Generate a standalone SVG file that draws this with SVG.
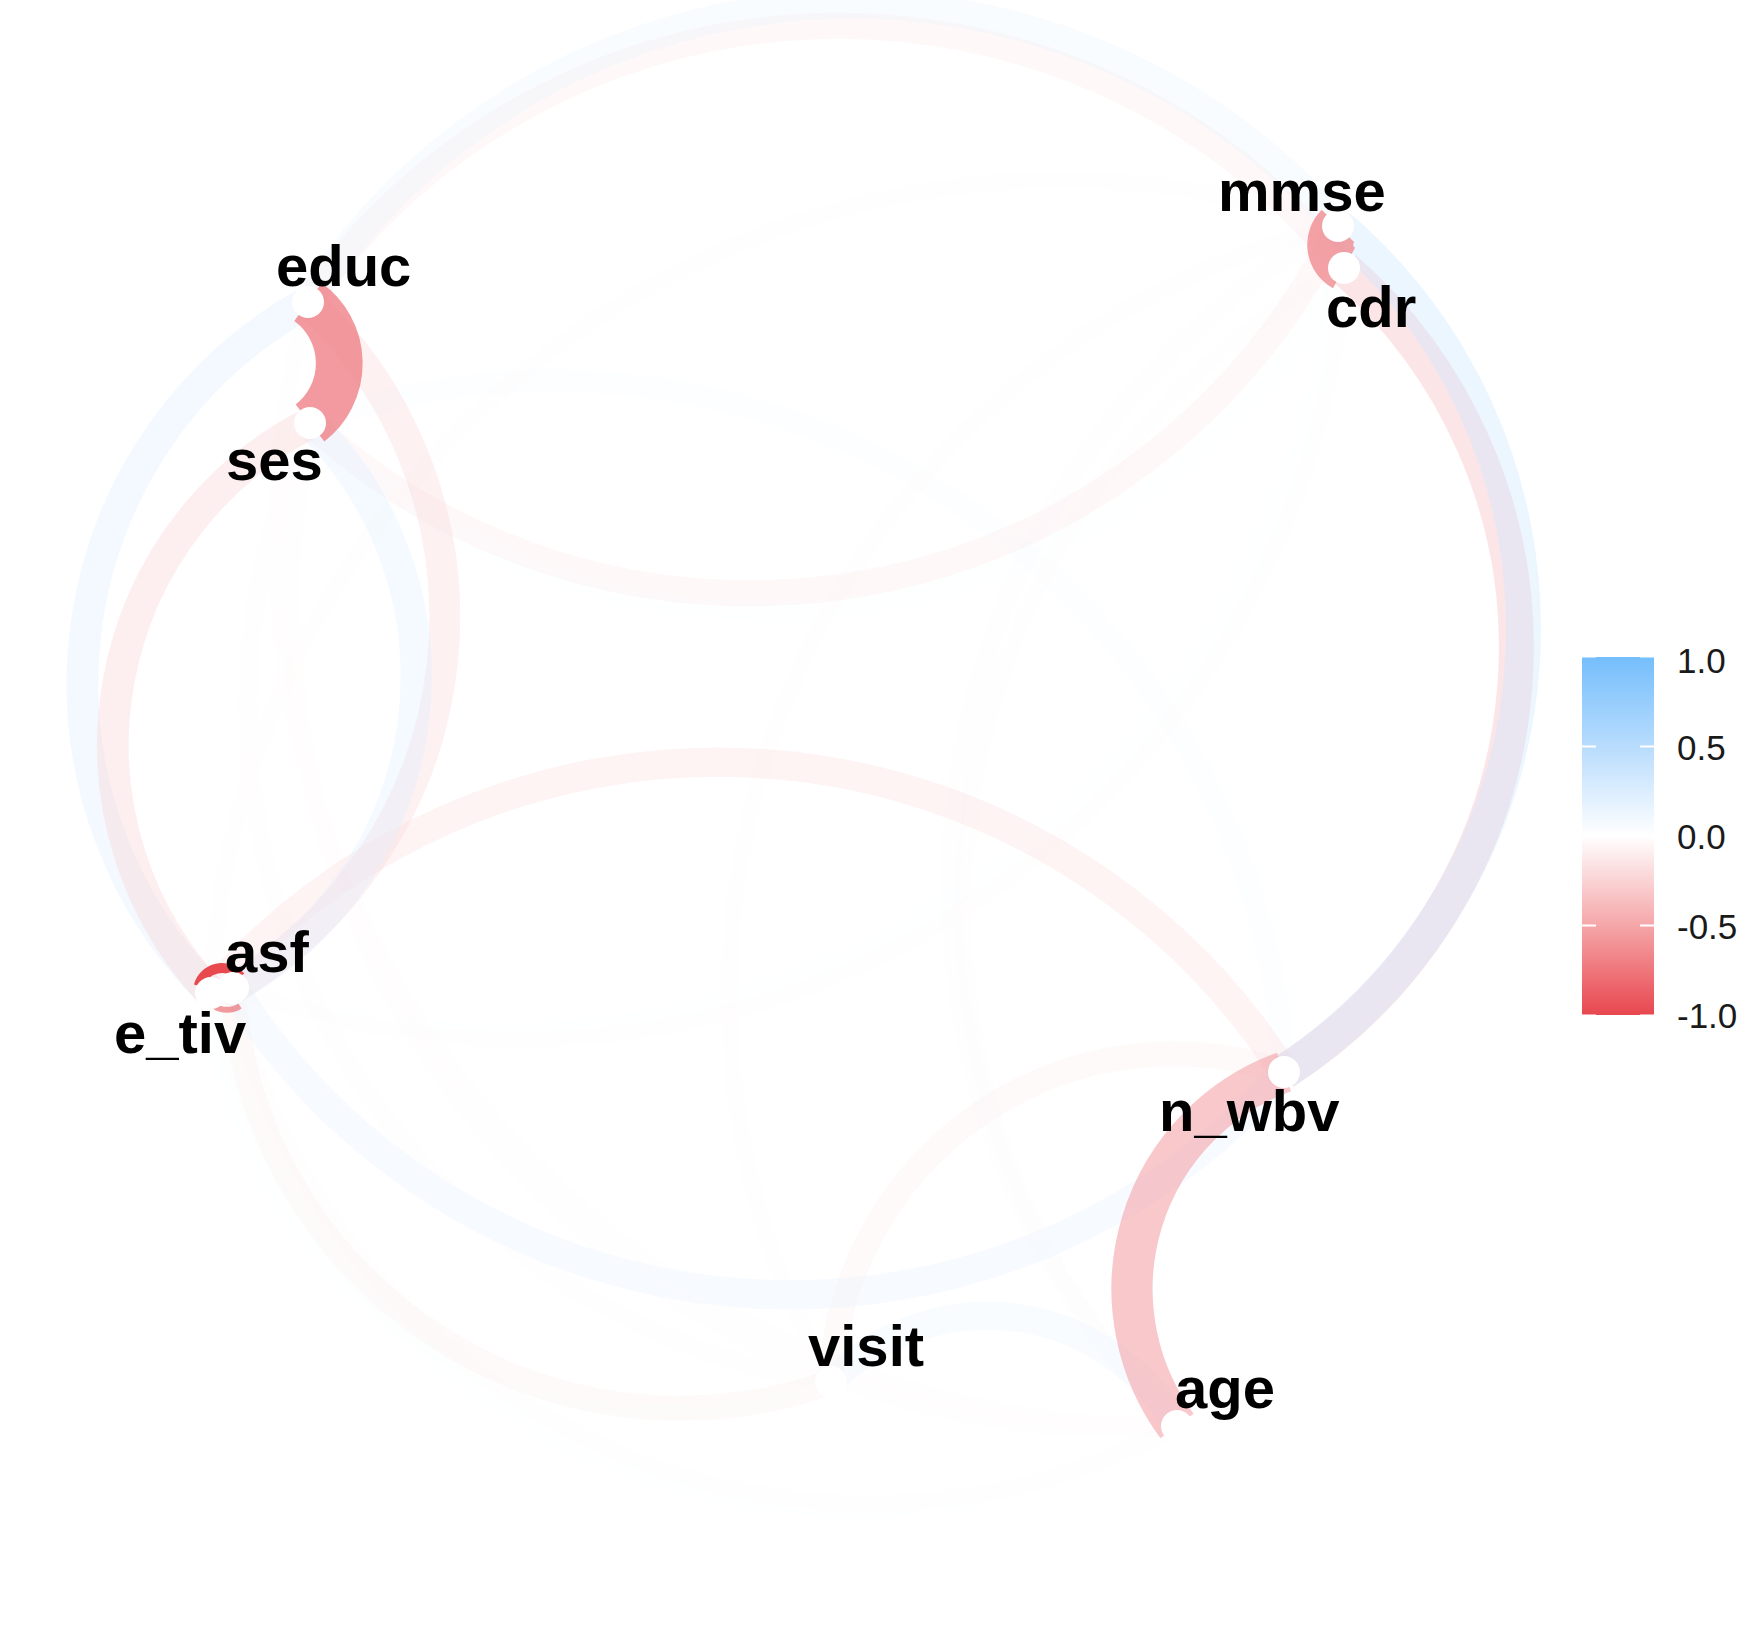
<svg xmlns="http://www.w3.org/2000/svg" width="1740" height="1650" viewBox="0 0 1740 1650">
<defs>
<style>
.e{fill:none;stroke-linecap:butt}
.lbl{font-family:"Liberation Sans",Arial,Helvetica,sans-serif;font-weight:bold;font-size:58px;fill:#000}
.dot{fill:#fff}
.leg{font-family:"Liberation Sans",Arial,Helvetica,sans-serif;font-size:35px;fill:#1a1a1a}
.tick{stroke:#fff;stroke-width:2}
</style>
<linearGradient id="cbar" x1="0" y1="0" x2="0" y2="1">
<stop offset="0" stop-color="#75BEFC"/>
<stop offset="0.25" stop-color="#B8DCFD"/>
<stop offset="0.5" stop-color="#FFFFFF"/>
<stop offset="0.75" stop-color="#F5A6A8"/>
<stop offset="1" stop-color="#E8474F"/>
</linearGradient>
</defs>
<rect width="1740" height="1650" fill="#fff"/>
<g id="connectors">
<path class="e" d="M 831 1382 A 766 766 0 0 1 1344 268" stroke="#FFFFFF" stroke-opacity="0.1" stroke-width="8.9"/>
<path class="e" d="M 308 302 A 777 777 0 0 1 1284 1072" stroke="#FDFEFF" stroke-opacity="0.109" stroke-width="13.4"/>
<path class="e" d="M 831 1382 A 750 750 0 0 1 308 302" stroke="#FCFEFF" stroke-opacity="0.118" stroke-width="15.2"/>
<path class="e" d="M 211 993 A 841 841 0 0 1 1344 268" stroke="#FCFEFF" stroke-opacity="0.118" stroke-width="15.2"/>
<path class="e" d="M 831 1382 A 457 457 0 0 1 211 993" stroke="#FBFDFF" stroke-opacity="0.127" stroke-width="16.6"/>
<path class="e" d="M 831 1382 A 789 789 0 0 1 1338 226" stroke="#FEF9FA" stroke-opacity="0.127" stroke-width="16.6"/>
<path class="e" d="M 1177 1426 A 888 888 0 0 1 308 302" stroke="#FEF9FA" stroke-opacity="0.127" stroke-width="16.6"/>
<path class="e" d="M 1177 1426 A 731 731 0 0 1 1344 268" stroke="#FEF9FA" stroke-opacity="0.127" stroke-width="16.6"/>
<path class="e" d="M 211 993 A 852 852 0 0 1 1338 226" stroke="#FEF9FA" stroke-opacity="0.127" stroke-width="16.6"/>
<path class="e" d="M 1344 268 A 827 827 0 0 1 233 988" stroke="#FEF9FA" stroke-opacity="0.127" stroke-width="16.6"/>
<path class="e" d="M 1177 1426 A 662 662 0 0 1 211 993" stroke="#F9FDFF" stroke-opacity="0.136" stroke-width="17.8"/>
<path class="e" d="M 1177 1426 A 650 650 0 0 1 233 988" stroke="#FEF8F8" stroke-opacity="0.136" stroke-width="17.8"/>
<path class="e" d="M 1338 226 A 839 839 0 0 1 233 988" stroke="#F9FDFF" stroke-opacity="0.136" stroke-width="17.8"/>
<path class="e" d="M 831 1382 A 682 682 0 0 1 310 423" stroke="#FEF6F6" stroke-opacity="0.145" stroke-width="18.9"/>
<path class="e" d="M 1177 1426 A 829 829 0 0 1 310 423" stroke="#FEF6F6" stroke-opacity="0.145" stroke-width="18.9"/>
<path class="e" d="M 1344 268 A 653 653 0 0 1 310 423" stroke="#F8FCFF" stroke-opacity="0.145" stroke-width="18.9"/>
<path class="e" d="M 1177 1426 A 757 757 0 0 1 1338 226" stroke="#F7FBFF" stroke-opacity="0.155" stroke-width="19.9"/>
<path class="e" d="M 310 423 A 731 731 0 0 1 1284 1072" stroke="#F3F9FF" stroke-opacity="0.182" stroke-width="22.3"/>
<path class="e" d="M 831 1382 A 343 343 0 0 1 1284 1072" stroke="#FCE7E8" stroke-opacity="0.218" stroke-width="25"/>
<path class="e" d="M 831 1382 A 448 448 0 0 1 233 988" stroke="#FCE7E8" stroke-opacity="0.218" stroke-width="25"/>
<path class="e" d="M 308 302 A 648 648 0 0 1 1344 268" stroke="#FCE3E5" stroke-opacity="0.236" stroke-width="26.2"/>
<path class="e" d="M 1338 226 A 654 654 0 0 1 310 423" stroke="#FCE3E5" stroke-opacity="0.236" stroke-width="26.2"/>
<path class="e" d="M 831 1382 A 218 218 0 0 1 1177 1426" stroke="#E6F3FE" stroke-opacity="0.264" stroke-width="27.9"/>
<path class="e" d="M 308 302 A 645 645 0 0 1 1338 226" stroke="#E5F3FE" stroke-opacity="0.273" stroke-width="28.4"/>
<path class="e" d="M 211 993 A 672 672 0 0 1 1284 1072" stroke="#FAD8DA" stroke-opacity="0.291" stroke-width="29.4"/>
<path class="e" d="M 1284 1072 A 659 659 0 0 1 233 988" stroke="#E2F1FE" stroke-opacity="0.291" stroke-width="29.4"/>
<path class="e" d="M 308 302 A 431 431 0 0 1 233 988" stroke="#FAD3D5" stroke-opacity="0.318" stroke-width="30.8"/>
<path class="e" d="M 310 423 A 356 356 0 0 1 233 988" stroke="#DCEFFE" stroke-opacity="0.327" stroke-width="31.3"/>
<path class="e" d="M 211 993 A 436 436 0 0 1 308 302" stroke="#DBEEFE" stroke-opacity="0.336" stroke-width="31.7"/>
<path class="e" d="M 211 993 A 362 362 0 0 1 310 423" stroke="#F9CFD1" stroke-opacity="0.336" stroke-width="31.7"/>
<path class="e" d="M 1344 268 A 504 504 0 0 1 1284 1072" stroke="#F7C0C3" stroke-opacity="0.409" stroke-width="35"/>
<path class="e" d="M 1338 226 A 530 530 0 0 1 1284 1072" stroke="#D0E9FE" stroke-opacity="0.409" stroke-width="35"/>
<path class="e" d="M 1177 1426 A 231 231 0 0 1 1284 1072" stroke="#F39FA4" stroke-opacity="0.573" stroke-width="41.2"/>
<path class="e" d="M 1344 268 A 26.5 26.5 0 0 1 1338 226" stroke="#EF8086" stroke-opacity="0.727" stroke-width="46"/>
<path class="e" d="M 308 302 A 75.6 75.6 0 0 1 310 423" stroke="#EE7A80" stroke-opacity="0.755" stroke-width="46.8"/>
<path class="e" d="M 198.8 985.8 A 24 24 0 0 1 240.4 976.6" stroke="#E8494F" stroke-width="10"/>
<path class="e" d="M 214 1006 A 24 24 0 0 0 240 1006" stroke="#E8494F" stroke-opacity="0.55" stroke-width="6"/>
</g>
<g id="node-mmse"><circle class="dot" cx="1338" cy="226" r="16"/><text class="lbl" x="1218" y="211">mmse</text></g>
<g id="node-cdr"><circle class="dot" cx="1344" cy="268" r="16"/><text class="lbl" x="1326" y="327">cdr</text></g>
<g id="node-educ"><circle class="dot" cx="308" cy="302" r="16"/><text class="lbl" x="276" y="286">educ</text></g>
<g id="node-ses"><circle class="dot" cx="310" cy="423" r="16"/><text class="lbl" x="226" y="480">ses</text></g>
<g id="node-e_tiv"><circle class="dot" cx="211" cy="993" r="16"/><text class="lbl" x="114" y="1053">e_tiv</text></g>
<g id="node-asf"><circle class="dot" cx="233" cy="988" r="16"/><text class="lbl" x="225" y="972">asf</text></g>
<g id="node-n_wbv"><circle class="dot" cx="1284" cy="1072" r="16"/><text class="lbl" x="1159" y="1131">n_wbv</text></g>
<g id="node-visit"><circle class="dot" cx="831" cy="1382" r="16"/><text class="lbl" x="808" y="1366">visit</text></g>
<g id="node-age"><circle class="dot" cx="1177" cy="1426" r="16"/><text class="lbl" x="1175" y="1408">age</text></g>
<g id="legend">
<rect x="1582" y="657" width="72" height="358" fill="url(#cbar)"/>
<line class="tick" x1="1582" y1="657" x2="1596" y2="657" stroke-opacity="0.5"/>
<line class="tick" x1="1640" y1="657" x2="1654" y2="657" stroke-opacity="0.5"/>
<line class="tick" x1="1582" y1="746.5" x2="1596" y2="746.5"/>
<line class="tick" x1="1640" y1="746.5" x2="1654" y2="746.5"/>
<line class="tick" x1="1582" y1="925.5" x2="1596" y2="925.5"/>
<line class="tick" x1="1640" y1="925.5" x2="1654" y2="925.5"/>
<line class="tick" x1="1582" y1="1015" x2="1596" y2="1015" stroke-opacity="0.5"/>
<line class="tick" x1="1640" y1="1015" x2="1654" y2="1015" stroke-opacity="0.5"/>
<text class="leg" x="1677" y="672.5">1.0</text>
<text class="leg" x="1677" y="759.5">0.5</text>
<text class="leg" x="1677" y="848.5">0.0</text>
<text class="leg" x="1677" y="938.5">-0.5</text>
<text class="leg" x="1677" y="1027.5">-1.0</text>
</g>
</svg>
